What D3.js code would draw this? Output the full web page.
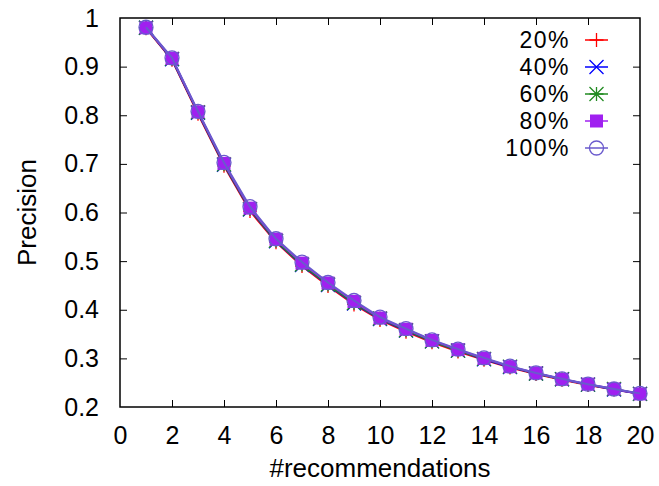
<!DOCTYPE html>
<html>
<head>
<meta charset="utf-8">
<script src="https://cdn.jsdelivr.net/npm/d3@7"></script>
<style>
  body { margin: 0; background: #fff; }
  text { font-family: "Liberation Sans", Arial, sans-serif; fill: #000; }
</style>
</head>
<body>
<div id="chart"></div>
<script>
// number of recommendations (x)
var recs = [1, 2, 3, 4, 5, 6, 7, 8, 9, 10, 11, 12, 13, 14, 15, 16, 17, 18, 19, 20];

// precision per training fraction
var p20  = [0.979, 0.914, 0.803, 0.696, 0.603, 0.539, 0.490, 0.449, 0.411, 0.379, 0.355, 0.333, 0.314, 0.297, 0.281, 0.268, 0.256, 0.245, 0.236, 0.227];
var p40  = [0.980, 0.915, 0.805, 0.698, 0.606, 0.541, 0.492, 0.451, 0.413, 0.381, 0.357, 0.335, 0.316, 0.298, 0.282, 0.269, 0.257, 0.246, 0.236, 0.227];
var p60  = [0.980, 0.916, 0.806, 0.699, 0.607, 0.542, 0.493, 0.452, 0.414, 0.382, 0.358, 0.335, 0.316, 0.299, 0.283, 0.269, 0.257, 0.246, 0.237, 0.227];
var p80  = [0.980, 0.917, 0.807, 0.701, 0.609, 0.545, 0.496, 0.455, 0.417, 0.383, 0.360, 0.337, 0.318, 0.300, 0.283, 0.270, 0.257, 0.247, 0.237, 0.227];
var p100 = [0.981, 0.918, 0.808, 0.703, 0.612, 0.546, 0.498, 0.456, 0.419, 0.385, 0.361, 0.338, 0.319, 0.301, 0.284, 0.270, 0.258, 0.247, 0.237, 0.228];

var seriesNames = ['20%', '40%', '60%', '80%', '100%'];
var seriesColors = ['#ff0000', '#0000ff', '#228b22', '#a020f0', '#6a5acd'];
var seriesMarks = ['plus', 'cross', 'star', 'square', 'circle'];

var xTicks = [0, 2, 4, 6, 8, 10, 12, 14, 16, 18, 20];
var yTicks = [0.2, 0.3, 0.4, 0.5, 0.6, 0.7, 0.8, 0.9, 1];

var chart = {
    w: 659,
    h: 486,
    left: 120,
    right: 640,
    top: 18,
    bottom: 407,
    tick: 7,
    font: 25,
    titleFont: 26,
    legendFont: 23,
};

var c = chart;
var allSeries = [p20, p40, p60, p80, p100];

var svg = d3.select('#chart').append('svg')
    .attr('width', c.w)
    .attr('height', c.h);

var x = d3.scaleLinear().domain([0, 20]).range([c.left, c.right]);
var y = d3.scaleLinear().domain([0.2, 1]).range([c.bottom, c.top]);

// axes: ticks point inward, mirrored on top/right
svg.append('g')
    .attr('transform', 'translate(0,' + c.bottom + ')')
    .call(d3.axisBottom(x).tickValues(xTicks).tickSizeInner(-c.tick).tickSizeOuter(0).tickPadding(19).tickFormat(d3.format('d')))
    .call(function(g) {
        g.select('.domain').remove();
        g.selectAll('text').style('font-size', c.font + 'px');
        g.selectAll('.tick').filter(function(d) { return d === 0 || d === 20; }).select('line').remove();
    });

svg.append('g')
    .attr('transform', 'translate(0,' + c.top + ')')
    .call(d3.axisTop(x).tickValues(xTicks).tickSizeInner(-c.tick).tickSizeOuter(0).tickFormat(''))
    .call(function(g) {
        g.select('.domain').remove();
        g.selectAll('.tick').filter(function(d) { return d === 0 || d === 20; }).select('line').remove();
    });

svg.append('g')
    .attr('transform', 'translate(' + c.left + ',0)')
    .call(d3.axisLeft(y).tickValues(yTicks).tickSizeInner(-c.tick).tickSizeOuter(0).tickPadding(21)
        .tickFormat(function(d) { return d === 1 ? '1' : d3.format('.1f')(d); }))
    .call(function(g) {
        g.select('.domain').remove();
        g.selectAll('text').style('font-size', c.font + 'px');
        g.selectAll('.tick').filter(function(d) { return d === 0.2 || d === 1; }).select('line').remove();
    });

svg.append('g')
    .attr('transform', 'translate(' + c.right + ',0)')
    .call(d3.axisRight(y).tickValues(yTicks).tickSizeInner(-c.tick).tickSizeOuter(0).tickFormat(''))
    .call(function(g) {
        g.select('.domain').remove();
        g.selectAll('.tick').filter(function(d) { return d === 0.2 || d === 1; }).select('line').remove();
    });

svg.selectAll('.tick line').attr('stroke', '#000').attr('stroke-width', 1);

// frame
svg.append('rect')
    .attr('x', c.left)
    .attr('y', c.top)
    .attr('width', c.right - c.left)
    .attr('height', c.bottom - c.top)
    .attr('fill', 'none')
    .attr('stroke', '#000')
    .attr('stroke-width', 1.5);

// axis titles
svg.append('text')
    .attr('x', (c.left + c.right) / 2)
    .attr('y', 477)
    .attr('text-anchor', 'middle')
    .style('font-size', c.titleFont + 'px')
    .text('#recommendations');

svg.append('text')
    .attr('transform', 'translate(36,' + ((c.top + c.bottom) / 2) + ') rotate(-90)')
    .attr('text-anchor', 'middle')
    .style('font-size', c.titleFont + 'px')
    .text('Precision');

// marker drawing
function drawMark(g, kind, color, cx, cy) {
    var s = 7;
    if (kind === 'plus') {
        g.append('path').attr('d', 'M' + (cx - s) + ',' + cy + 'H' + (cx + s) + 'M' + cx + ',' + (cy - s) + 'V' + (cy + s))
            .attr('stroke', color).attr('stroke-width', 1.3).attr('fill', 'none');
    } else if (kind === 'cross') {
        g.append('path').attr('d', 'M' + (cx - s) + ',' + (cy - s) + 'L' + (cx + s) + ',' + (cy + s) + 'M' + (cx - s) + ',' + (cy + s) + 'L' + (cx + s) + ',' + (cy - s))
            .attr('stroke', color).attr('stroke-width', 1.3).attr('fill', 'none');
    } else if (kind === 'star') {
        g.append('path').attr('d', 'M' + (cx - s) + ',' + cy + 'H' + (cx + s) + 'M' + cx + ',' + (cy - s) + 'V' + (cy + s) +
                'M' + (cx - s) + ',' + (cy - s) + 'L' + (cx + s) + ',' + (cy + s) + 'M' + (cx - s) + ',' + (cy + s) + 'L' + (cx + s) + ',' + (cy - s))
            .attr('stroke', color).attr('stroke-width', 1.3).attr('fill', 'none');
    } else if (kind === 'square') {
        g.append('rect').attr('x', cx - 6.5).attr('y', cy - 6.5).attr('width', 13).attr('height', 13)
            .attr('fill', color);
    } else if (kind === 'circle') {
        g.append('circle').attr('cx', cx).attr('cy', cy).attr('r', 7)
            .attr('fill', 'none').attr('stroke', color).attr('stroke-width', 1.3);
    }
}

var line = d3.line()
    .x(function(d, i) { return x(recs[i]); })
    .y(function(d) { return y(d); });

allSeries.forEach(function(vals, si) {
    var g = svg.append('g').attr('class', 'series' + si);
    g.append('path')
        .datum(vals)
        .attr('d', line)
        .attr('fill', 'none')
        .attr('stroke', seriesColors[si])
        .attr('stroke-width', 2);
    vals.forEach(function(v, i) {
        drawMark(g, seriesMarks[si], seriesColors[si], x(recs[i]), y(v));
    });
});

// legend
var legY = [40, 67, 94, 121, 148];
seriesNames.forEach(function(name, si) {
    var g = svg.append('g').attr('class', 'legend');
    g.append('text')
        .attr('x', 570)
        .attr('y', legY[si])
        .attr('dy', '0.36em')
        .attr('text-anchor', 'end')
        .style('font-size', c.legendFont + 'px')
        .style('letter-spacing', '1.5px')
        .text(name);
    g.append('line')
        .attr('x1', 585).attr('x2', 608)
        .attr('y1', legY[si]).attr('y2', legY[si])
        .attr('stroke', seriesColors[si]).attr('stroke-width', 1.5);
    drawMark(g, seriesMarks[si], seriesColors[si], 596.5, legY[si]);
});
</script>
</body>
</html>
